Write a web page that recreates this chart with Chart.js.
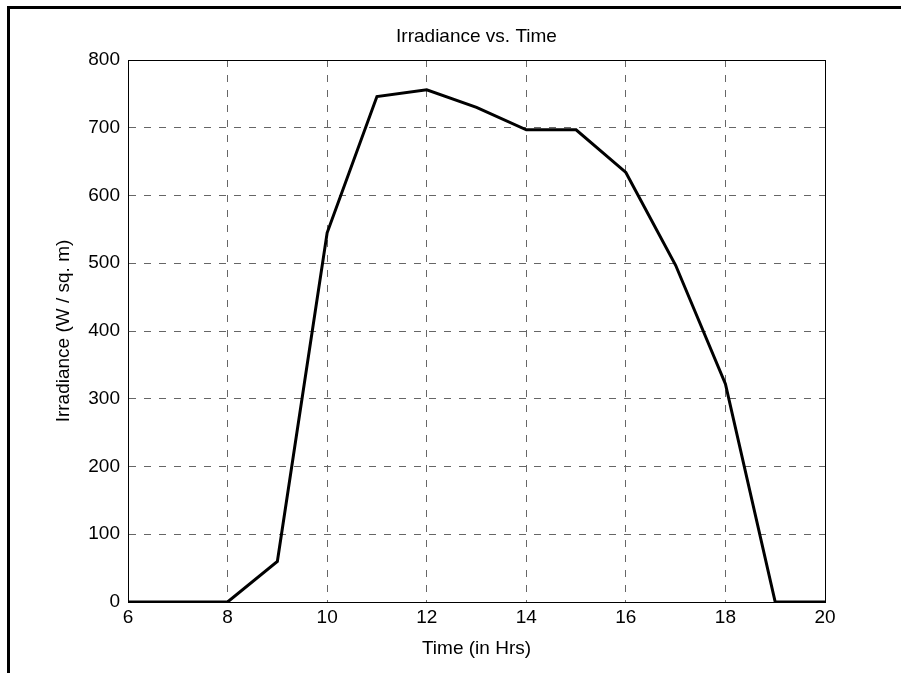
<!DOCTYPE html>
<html>
<head>
<meta charset="utf-8">
<script src="https://cdn.jsdelivr.net/npm/chart.js@4/dist/chart.umd.min.js"></script>
<style>
  html, body { margin: 0; padding: 0; background: #fff; overflow: hidden; }
  #wrap { position: relative; width: 901px; height: 673px; }
  #marco {
    position: absolute; left: 7px; top: 6px; right: -10px; bottom: -10px;
    border-top: 3px solid #000; border-left: 3px solid #000;
    pointer-events: none;
  }
</style>
</head>
<body>
<div id="wrap">
  <canvas id="graficoIrradiancia" width="901" height="673"></canvas>
  <div id="marco"></div>
</div>
<script>
// datos
const horas = [6, 7, 8, 9, 10, 11, 12, 13, 14, 15, 16, 17, 18, 19, 20];
const irradiancia = [0, 0, 0, 60, 545, 746, 756, 730, 697, 697, 634, 497, 322, 0, 0];
const ticksX = [6, 8, 10, 12, 14, 16, 18, 20];
const ticksY = [0, 100, 200, 300, 400, 500, 600, 700, 800];

const titulo = "Irradiance vs. Time";
const tituloX = "Time (in Hrs)";
const tituloY = "Irradiance (W / sq. m)";

Chart.defaults.font.family = "Arial, 'Liberation Sans', sans-serif";
Chart.defaults.font.size = 19;
Chart.defaults.color = "#000";

const puntos = horas.map((h, i) => ({ x: h, y: irradiancia[i] }));

const grilla = { color: "#666", lineWidth: 1, drawTicks: false };
const borde = { color: "#000", width: 1, dash: [7, 8] };

const ctx = document.getElementById("graficoIrradiancia").getContext("2d");
new Chart(ctx, {
  type: "line",
  data: {
    datasets: [{
      data: puntos,
      borderColor: "#000",
      borderWidth: 3,
      pointRadius: 0,
      tension: 0,
      fill: false
    }]
  },
  options: {
    responsive: false,
    animation: false,
    devicePixelRatio: 1,
    layout: { padding: 0 },
    plugins: {
      legend: { display: false },
      tooltip: { enabled: false },
      title: { display: false }
    },
    scales: {
      x: {
        type: "linear",
        position: "bottom",
        min: ticksX[0],
        max: ticksX[ticksX.length - 1],
        afterBuildTicks: s => { s.ticks = ticksX.map(v => ({ value: v })); },
        ticks: { padding: 4, maxRotation: 0 },
        grid: grilla,
        border: borde,
        title: { display: true, text: tituloX, padding: { top: 0, bottom: 13 } },
        afterFit: s => { s.height = 71; }
      },
      y: {
        type: "linear",
        position: "left",
        min: ticksY[0],
        max: ticksY[ticksY.length - 1],
        afterBuildTicks: s => { s.ticks = ticksY.map(v => ({ value: v })); },
        ticks: { padding: 8 },
        grid: grilla,
        border: borde,
        title: { display: true, text: tituloY, padding: { top: 52, bottom: 0 } },
        afterFit: s => { s.width = 128; }
      },
      x2: {
        type: "linear",
        position: "top",
        min: ticksX[0],
        max: ticksX[ticksX.length - 1],
        ticks: { display: false },
        grid: { display: false, drawTicks: false },
        border: { color: "#000", width: 1 },
        title: { display: true, text: titulo, padding: { top: 25, bottom: 0 } },
        afterFit: s => { s.height = 60; }
      },
      y2: {
        type: "linear",
        position: "right",
        min: ticksY[0],
        max: ticksY[ticksY.length - 1],
        ticks: { display: false },
        grid: { display: false, drawTicks: false },
        border: { color: "#000", width: 1 },
        afterFit: s => { s.width = 76; }
      }
    }
  }
});
</script>
</body>
</html>
